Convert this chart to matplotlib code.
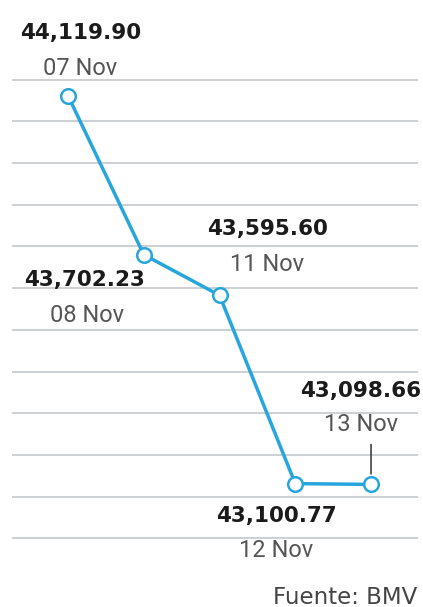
import numpy as np
import matplotlib
matplotlib.use("Agg")
import matplotlib.pyplot as plt

# --- datos (BMV, cierre diario) ---
fechas = ["07 Nov", "08 Nov", "11 Nov", "12 Nov", "13 Nov"]
valores = [44119.90, 43702.23, 43595.60, 43100.77, 43098.66]
etiquetas = ["44,119.90", "43,702.23", "43,595.60", "43,100.77", "43,098.66"]

# desplazamientos de las etiquetas en pixeles (valor, fecha)
off_valor = [(13, 63), (-59, -25), (48, 66), (-19, -32), (-10, 93)]
off_fecha = [(12, 27), (-57, -61), (48, 31), (-19, -67), (-10, 60)]

AZUL = "#27a6dd"
GRID = "#c4c8cc"

fig = plt.figure(figsize=(4.23, 6.07), dpi=100)
ax = fig.add_axes([12 / 423, 68 / 607, 406 / 423, 460 / 607])

x = np.arange(len(valores))
ax.plot(x, valores, color=AZUL, lw=2.5, marker="o", ms=10.5,
        mfc="white", mec=AZUL, mew=1.8, zorder=3)

# escala: 2.6186 unidades por pixel
lo = valores[0] - (539 - 95) * 2.6186
hi = valores[0] + (95 - 79) * 2.6186
pad = 2.0
ax.set_ylim(lo - pad, hi + pad)
ax.set_xlim(-0.739, 4.62)
ax.set_yticks(np.linspace(lo, hi, 12))
ax.grid(axis="y", color=GRID, lw=1.2)
ax.tick_params(left=False, bottom=False, labelleft=False, labelbottom=False)
for s in ax.spines.values():
    s.set_visible(False)

for i in range(len(valores)):
    ax.annotate(etiquetas[i], (x[i], valores[i]), xytext=off_valor[i],
                textcoords="offset pixels", ha="center", va="center",
                fontsize=15.5, fontweight="bold", color="#1b1b1b",
                family=["DejaVu Sans"], annotation_clip=False)
    ax.annotate(fechas[i], (x[i], valores[i]), xytext=off_fecha[i],
                textcoords="offset pixels", ha="center", va="center",
                fontsize=17, color="#555555",
                family=["Roboto"], annotation_clip=False)

# linea guia del 13 Nov
ax.annotate("", (x[4], valores[4]), xytext=(0, 40), textcoords="offset pixels",
            arrowprops=dict(arrowstyle="-", color="#333333", lw=1.1,
                            shrinkA=0, shrinkB=7.5))

fig.text(417 / 423, 1 - 597 / 607, "Fuente: BMV", ha="right", va="center",
         fontsize=16.5, color="#444444", family=["DejaVu Sans"])

fig.savefig("out.png", dpi=100, facecolor="white")
